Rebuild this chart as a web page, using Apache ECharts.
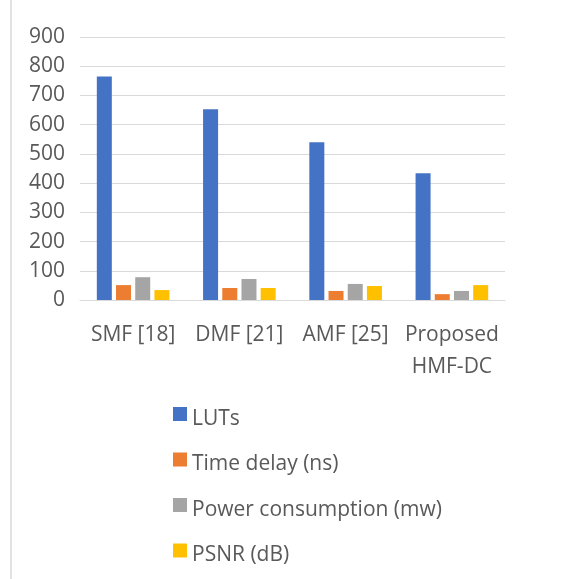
<!DOCTYPE html>
<html>
<head>
<meta charset="utf-8">
<script src="https://cdn.jsdelivr.net/npm/echarts@6/dist/echarts.min.js"></script>
<style>
  html, body { margin: 0; padding: 0; background: #fff; }
  #chart { width: 576px; height: 579px; }
</style>
</head>
<body>
<div id="chart"></div>
<script>
const categories = ['SMF [18]', 'DMF [21]', 'AMF [25]', 'Proposed\nHMF-DC'];
const seriesNames = ['LUTs', 'Time delay (ns)', 'Power consumption (mw)', 'PSNR (dB)'];
const luts = [765, 653, 540, 434];
const timeDelay = [51, 41, 31, 20];
const power = [78, 72, 55, 31];
const psnr = [34, 41, 48, 51];
const colors = ['#4472c4', '#ed7d31', '#a5a5a5', '#ffc000'];

const chart = echarts.init(document.getElementById('chart'));
const font = '"Open Sans", "Noto Sans", sans-serif';
const textColor = '#595959';

const values = [luts, timeDelay, power, psnr];

chart.setOption({
  animation: false,
  color: colors,
  textStyle: { fontFamily: font },
  graphic: [{
    type: 'line',
    shape: { x1: 11, y1: 0, x2: 11, y2: 579 },
    style: { stroke: '#d9d9d9', lineWidth: 1.5 }
  }],
  grid: { left: 80, right: 71, top: 37, bottom: 279 },
  legend: {
    orient: 'vertical',
    left: 168,
    top: 402,
    height: 200,
    itemWidth: 14,
    itemHeight: 14,
    itemGap: 23,
    icon: 'rect',
    formatter: '{t|{name}}',
    textStyle: {
      fontSize: 21, color: textColor, fontFamily: font,
      rich: { t: { fontSize: 21, color: textColor, fontFamily: font, padding: [10, 0, 0, 0] } }
    },
    data: seriesNames
  },
  xAxis: {
    type: 'category',
    data: categories,
    axisLine: { lineStyle: { color: '#d9d9d9', width: 1 } },
    axisTick: { show: false },
    axisLabel: { interval: 0, fontSize: 21, color: textColor, margin: 19, lineHeight: 32, fontFamily: font }
  },
  yAxis: {
    type: 'value',
    min: 0,
    max: 900,
    interval: 100,
    axisLine: { show: false },
    axisTick: { show: false },
    splitLine: { lineStyle: { color: '#d9d9d9', width: 1 } },
    axisLabel: { fontSize: 21, color: textColor, margin: 15, fontFamily: font }
  },
  series: seriesNames.map((name, i) => ({
    name: name,
    type: 'bar',
    data: values[i],
    barWidth: 15,
    barGap: '28%'
  }))
});
</script>
</body>
</html>
